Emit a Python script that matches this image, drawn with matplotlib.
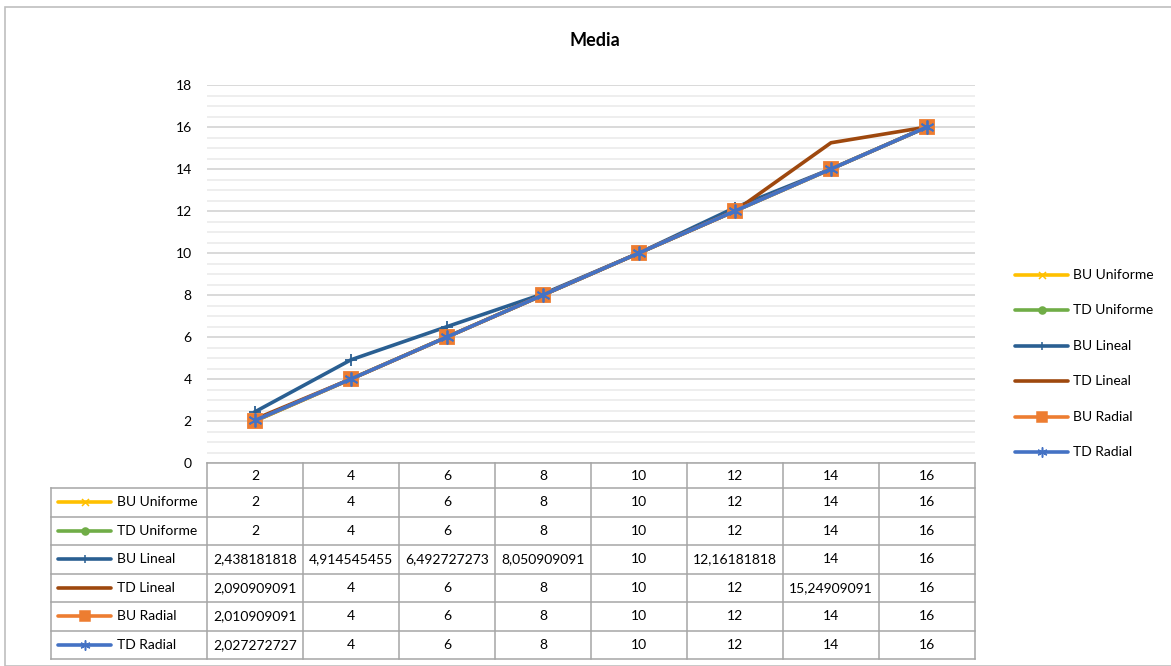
import numpy as np
import matplotlib
matplotlib.use("Agg")
import matplotlib.pyplot as plt
from matplotlib.lines import Line2D
from matplotlib.patches import Rectangle

plt.rcParams['font.family'] = ['Lato', 'DejaVu Sans']

# ---- data ----
categories = ['2', '4', '6', '8', '10', '12', '14', '16']
series_names = ['BU Uniforme', 'TD Uniforme', 'BU Lineal', 'TD Lineal', 'BU Radial', 'TD Radial']
bu_uniforme = [2, 4, 6, 8, 10, 12, 14, 16]
td_uniforme = [2, 4, 6, 8, 10, 12, 14, 16]
bu_lineal = [2.438181818, 4.914545455, 6.492727273, 8.050909091, 10, 12.16181818, 14, 16]
td_lineal = [2.090909091, 4, 6, 8, 10, 12, 15.24909091, 16]
bu_radial = [2.010909091, 4, 6, 8, 10, 12, 14, 16]
td_radial = [2.027272727, 4, 6, 8, 10, 12, 14, 16]
title = 'Media'

series_values = [bu_uniforme, td_uniforme, bu_lineal, td_lineal, bu_radial, td_radial]
colors = ['#FFC000', '#70AD47', '#2A5F92', '#9E480E', '#ED7D31', '#4472C4']
markers = ['x', 'o', '+', None, 's', (6, 2, 0)]
msizes = [7, 7, 8, 0, 9.5, 10]

W, H = 1171, 666
fig = plt.figure(figsize=(W / 100, H / 100), dpi=100)

# outer chart frame
fig.add_artist(Rectangle((5 / W, 0), 1.2, 1 - 7 / H, transform=fig.transFigure,
                         fill=False, edgecolor='#BFBFBF', lw=1.2, clip_on=False))

# plot area
ax_l, ax_r, ax_t, ax_b = 207, 975, 85, 463
ax = fig.add_axes([ax_l / W, (H - ax_b) / H, (ax_r - ax_l) / W, (ax_b - ax_t) / H])
x = np.arange(len(categories))
ax.set_xlim(-0.5, len(categories) - 0.5)
ax.set_ylim(0, 18)
ax.set_yticks(np.arange(0, 19, 2))
ax.set_yticks(np.arange(0, 18.01, 0.5), minor=True)
ax.set_xticks([])
ax.tick_params(axis='y', which='both', length=0, labelsize=10, pad=11, colors='#000000')
for s in ax.spines.values():
    s.set_visible(False)
ax.grid(axis='y', which='minor', color='#EDEDED', lw=1.3, zorder=0)
ax.grid(axis='y', which='major', color='#D9D9D9', lw=1.4, zorder=0)
ax.set_axisbelow(True)

for vals, c, m, ms in zip(series_values, colors, markers, msizes):
    kw = dict(color=c, lw=2.6, solid_joinstyle='round', zorder=3)
    if m is not None:
        kw.update(marker=m, markersize=ms, markerfacecolor=c, markeredgecolor=c, markeredgewidth=1.3)
    ax.plot(x, vals, **kw)

fig.text(594.5 / W, 1 - 40 / H, title, ha='center', va='center', fontsize=13, fontweight='bold')

# ---- data table below plot ----
trans = ax.get_xaxis_transform()
ppx = (ax_b - ax_t)
def fy(py):
    return (ax_b - py) / ppx

gridc = '#A6A6A6'
upx = (ax_r - ax_l) / len(categories)
def dx(px):
    return -0.5 + (px - ax_l) / upx

leg_left = dx(51)
header_bottom = 488
row_edges = [488 + i * 28.5 for i in range(len(series_names) + 1)]
table_bottom = row_edges[-1]

def tline(xs, ys):
    ax.add_line(Line2D(xs, ys, transform=trans, color=gridc, lw=1.1, clip_on=False, zorder=5))

tline([-0.5, len(categories) - 0.5], [fy(ax_b), fy(ax_b)])
for ry in row_edges:
    tline([leg_left, len(categories) - 0.5], [fy(ry), fy(ry)])
for k in range(len(categories) + 1):
    tline([k - 0.5, k - 0.5], [fy(ax_b), fy(table_bottom)])
tline([leg_left, leg_left], [fy(header_bottom), fy(table_bottom)])

for xi, lab in zip(x, categories):
    ax.text(xi, fy((ax_b + header_bottom) / 2), lab, transform=trans, ha='center', va='center',
            fontsize=10, clip_on=False)

def fmt(v):
    return f"{v:.10g}".replace('.', ',')

for i, (name, vals, c, m, ms) in enumerate(zip(series_names, series_values, colors, markers, msizes)):
    yc = fy((row_edges[i] + row_edges[i + 1]) / 2)
    ax.add_line(Line2D([dx(58), dx(111)], [yc, yc], transform=trans, color=c, lw=2.6,
                       clip_on=False, zorder=6, solid_capstyle='round'))
    if m is not None:
        ax.add_line(Line2D([dx(84.5)], [yc], transform=trans, color=c, marker=m,
                           markersize=ms * 0.72, markerfacecolor=c, markeredgecolor=c,
                           markeredgewidth=1.1, clip_on=False, zorder=7))
    ax.text(dx(117), yc, name, transform=trans, ha='left', va='center', fontsize=10, clip_on=False)
    for xi, v in zip(x, vals):
        ax.text(xi, yc, fmt(v), transform=trans, ha='center', va='center', fontsize=10, clip_on=False)

# ---- right legend ----
for i, (name, c, m, ms) in enumerate(zip(series_names, colors, markers, msizes)):
    py = 275 + i * 35.4
    yfig = 1 - py / H
    fig.add_artist(Line2D([1015 / W, 1068 / W], [yfig, yfig], transform=fig.transFigure,
                          color=c, lw=2.6, solid_capstyle='round'))
    if m is not None:
        fig.add_artist(Line2D([1041.5 / W], [yfig], transform=fig.transFigure, color=c, marker=m,
                              markersize=ms * 0.72, markerfacecolor=c, markeredgecolor=c,
                              markeredgewidth=1.1))
    fig.text(1073 / W, yfig, name, ha='left', va='center', fontsize=10)

fig.savefig('out.png', dpi=100)
